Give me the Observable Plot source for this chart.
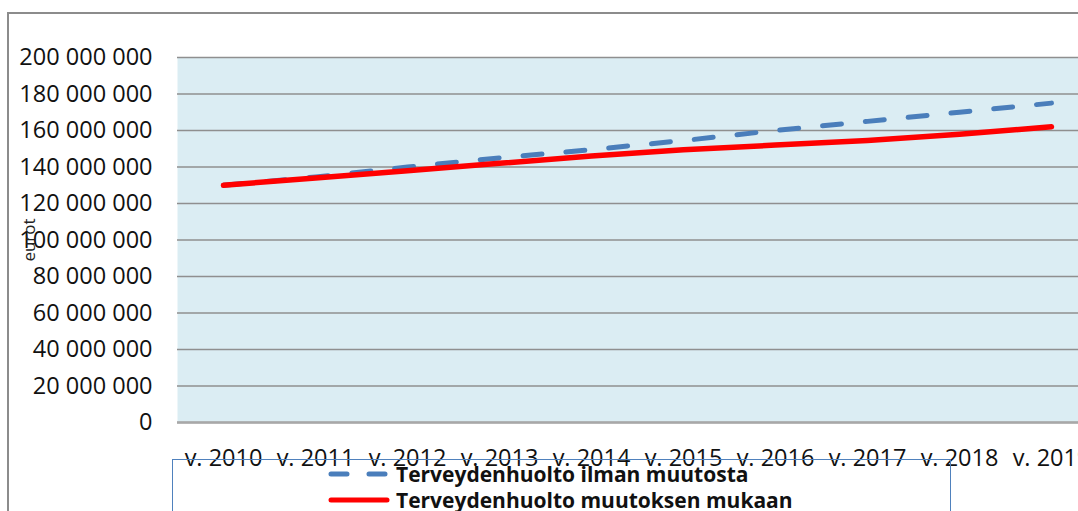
<!DOCTYPE html>
<html>
<head>
<meta charset="utf-8">
<script src="https://cdn.jsdelivr.net/npm/d3@7"></script>
<script src="https://cdn.jsdelivr.net/npm/@observablehq/plot@0.6"></script>
<style>
  html, body { margin: 0; padding: 0; background: #fff; overflow: hidden; width: 1078px; height: 511px; }
  #wrap { position: relative; width: 1078px; height: 511px; overflow: hidden; }
  #outer { position: absolute; left: 7px; top: 12px; width: 1200px; height: 600px;
           border-left: 2px solid #8c8c8c; border-top: 2px solid #8c8c8c; }
  #chart { position: absolute; left: 0; top: 0; width: 1100px; }
  #chart svg { max-width: none !important; }
  #ylabel { position: absolute; left: 28px; top: 240px; transform: translate(-50%, -50%) rotate(-90deg);
            font-family: "Open Sans", sans-serif; font-size: 17px; color: #222; white-space: nowrap; }
  #legend { position: absolute; left: 172px; top: 459px; width: 777px; height: 80px;
            border: 1px solid #4F81BD; background: transparent; }
  .item { position: absolute; left: 154px; display: flex; align-items: center;
          font-family: "Open Sans", sans-serif; font-weight: 700; font-size: 21px; color: #111; white-space: nowrap; }
  .item svg { margin-right: 5px; }
</style>
</head>
<body>
<div id="wrap">
  <div id="outer"></div>
  <div id="chart"></div>
  <div id="ylabel">eurot</div>
  <div id="legend"></div>
</div>
<script>
const years = ["v. 2010", "v. 2011", "v. 2012", "v. 2013", "v. 2014", "v. 2015", "v. 2016", "v. 2017", "v. 2018", "v. 2019"];
const ilmanMuutosta = [130000000, 134500000, 140000000, 145000000, 149500000, 154500000, 160000000, 165000000, 170000000, 175000000];
const muutoksenMukaan = [130000000, 134000000, 138000000, 142000000, 146000000, 149500000, 152000000, 154500000, 158000000, 162000000];
const yTicks = [0, 20000000, 40000000, 60000000, 80000000, 100000000, 120000000, 140000000, 160000000, 180000000, 200000000];
const seriesNames = ["Terveydenhuolto ilman muutosta", "Terveydenhuolto muutoksen mukaan"];
const seriesColors = ["#4A7EBB", "#FF0000"];

const blueData = years.map((y, i) => ({year: y, value: ilmanMuutosta[i]}));
const redData = years.map((y, i) => ({year: y, value: muutoksenMukaan[i]}));

const loc = d3.formatLocale({thousands: " ", grouping: [3], decimal: ",", currency: ["", " €"]});
const fmt = loc.format(",d");

const chart = Plot.plot({
  width: 1100,
  height: 511,
  marginLeft: 177,
  marginRight: 3,
  marginTop: 57,
  marginBottom: 89,
  x: {type: "point", domain: years, padding: 0.5, label: null},
  y: {domain: [0, 200000000], label: null},
  style: {fontFamily: "Open Sans, sans-serif", fontSize: "23.5px", color: "#111", background: "transparent", overflow: "visible", maxWidth: "none"},
  marks: [
    Plot.frame({fill: "#DBEDF3", stroke: null}),
    Plot.gridY(yTicks, {stroke: "#8f8f8f", strokeOpacity: 1, strokeWidth: 1.5}),
    Plot.ruleY([0], {stroke: "#a8a8a8", strokeWidth: 2.5}),
    Plot.axisY(yTicks, {tickSize: 0, tickPadding: 25, tickFormat: fmt, label: null}),
    Plot.axisX({tickSize: 0, tickPadding: 27, label: null}),
    Plot.lineY(blueData, {x: "year", y: "value", stroke: seriesColors[0], strokeWidth: 5, strokeDasharray: "19,24", strokeLinecap: "round"}),
    Plot.lineY(redData, {x: "year", y: "value", stroke: seriesColors[1], strokeWidth: 5.5, strokeLinecap: "round"})
  ]
});
document.getElementById("chart").appendChild(chart);

const legend = document.getElementById("legend");
seriesNames.forEach((name, i) => {
  const item = document.createElement("div");
  item.className = "item";
  item.style.top = (i === 0 ? 0 : 26) + "px";
  const dash = i === 0 ? 'stroke-dasharray="16,22"' : "";
  item.innerHTML = `<svg width="64" height="10"><line x1="4" y1="5" x2="60" y2="5" stroke="${seriesColors[i]}" stroke-width="5" stroke-linecap="round" ${dash}/></svg><span>${name}</span>`;
  legend.appendChild(item);
});
</script>
</body>
</html>
